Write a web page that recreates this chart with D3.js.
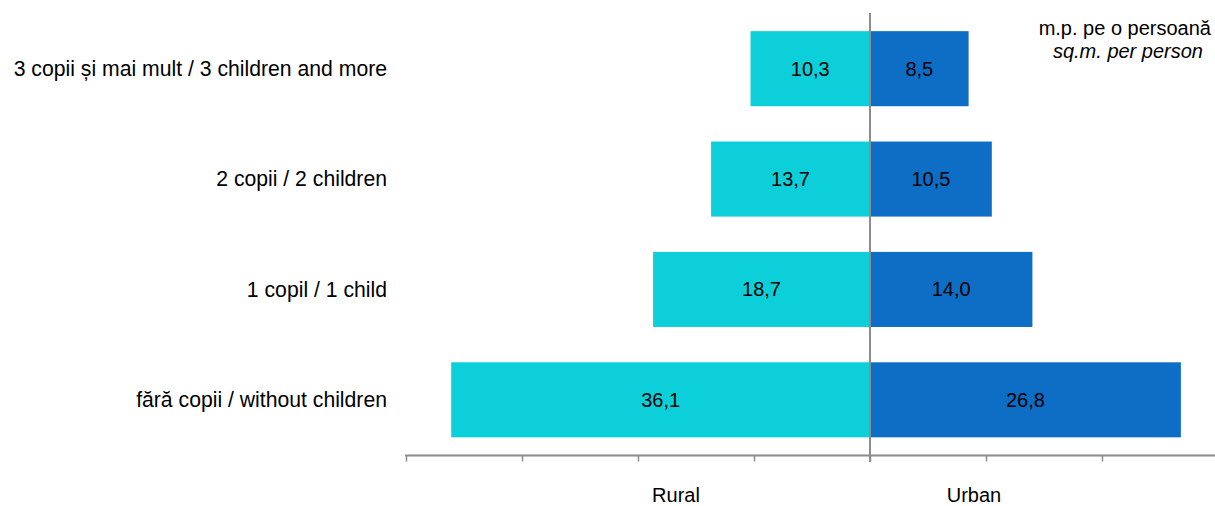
<!DOCTYPE html>
<html><head><meta charset="utf-8">
<script src="https://cdn.jsdelivr.net/npm/d3@7"></script>
<style>body{margin:0;background:#fff}svg{display:block;font-family:"Liberation Sans",Arial,sans-serif}</style>
</head><body><svg id="c" width="1215" height="506"></svg>
<script>
const categories = ["3 copii și mai mult / 3 children and more","2 copii / 2 children","1 copil / 1 child","fără copii / without children"];
const rural = [10.3, 13.7, 18.7, 36.1];
const urban = [8.5, 10.5, 14.0, 26.8];
const tickValues = [-40,-30,-20,-10,0,10,20];
const seriesNames = ["Rural","Urban"];
const colors = {Rural:"#0DCFDA", Urban:"#0E6DC4"};
const FS = 20;

const svg = d3.select("#c");
const x = d3.scaleLinear().domain([-40,30]).range([406,1218]);
const y = d3.scaleBand().domain(categories).range([13.5,455]).paddingInner(0.32).paddingOuter(0.16);
const fmt = v => d3.format(".1f")(v).replace(".", ",");

const g = svg.append("g");
categories.forEach((c,i)=>{
  g.append("rect").attr("x",x(-rural[i])).attr("y",y(c)).attr("width",x(0)-x(-rural[i])).attr("height",y.bandwidth()).attr("fill",colors.Rural);
  g.append("rect").attr("x",x(0)).attr("y",y(c)).attr("width",x(urban[i])-x(0)).attr("height",y.bandwidth()).attr("fill",colors.Urban);
  g.append("text").attr("x",(x(-rural[i])+x(0))/2).attr("y",y(c)+y.bandwidth()/2).attr("dy","0.35em").attr("text-anchor","middle").attr("font-size",FS).attr("fill","#000").text(fmt(rural[i]));
  g.append("text").attr("x",(x(urban[i])+x(0))/2).attr("y",y(c)+y.bandwidth()/2).attr("dy","0.35em").attr("text-anchor","middle").attr("font-size",FS).attr("fill","#000").text(fmt(urban[i]));
  g.append("text").attr("x",387).attr("y",y(c)+y.bandwidth()/2).attr("dy","0.35em").attr("text-anchor","end").attr("font-size",21.2).attr("fill","#000").text(c);
});

// center line
svg.append("line").attr("x1",x(0)).attr("x2",x(0)).attr("y1",13).attr("y2",462).attr("stroke","#8c8c8c").attr("stroke-width",2);

// bottom axis
const ax = svg.append("g").attr("transform","translate(0,455.5)")
  .call(d3.axisBottom(x).tickValues(tickValues).tickSize(6).tickFormat(""));
ax.select(".domain").attr("stroke","#8c8c8c").attr("stroke-width",2).attr("d","M405,0H1215");
ax.selectAll(".tick line").attr("stroke","#8c8c8c").attr("stroke-width",1.5);

svg.append("text").attr("x",676).attr("y",502).attr("text-anchor","middle").attr("font-size",FS).text(seriesNames[0]);
svg.append("text").attr("x",974).attr("y",502).attr("text-anchor","middle").attr("font-size",FS).text(seriesNames[1]);

svg.append("text").attr("x",1211).attr("y",35).attr("text-anchor","end").attr("font-size",FS).text("m.p. pe o persoană");
svg.append("text").attr("x",1203).attr("y",58).attr("text-anchor","end").attr("font-size",FS).attr("font-style","italic").text("sq.m. per person");
</script></body></html>
